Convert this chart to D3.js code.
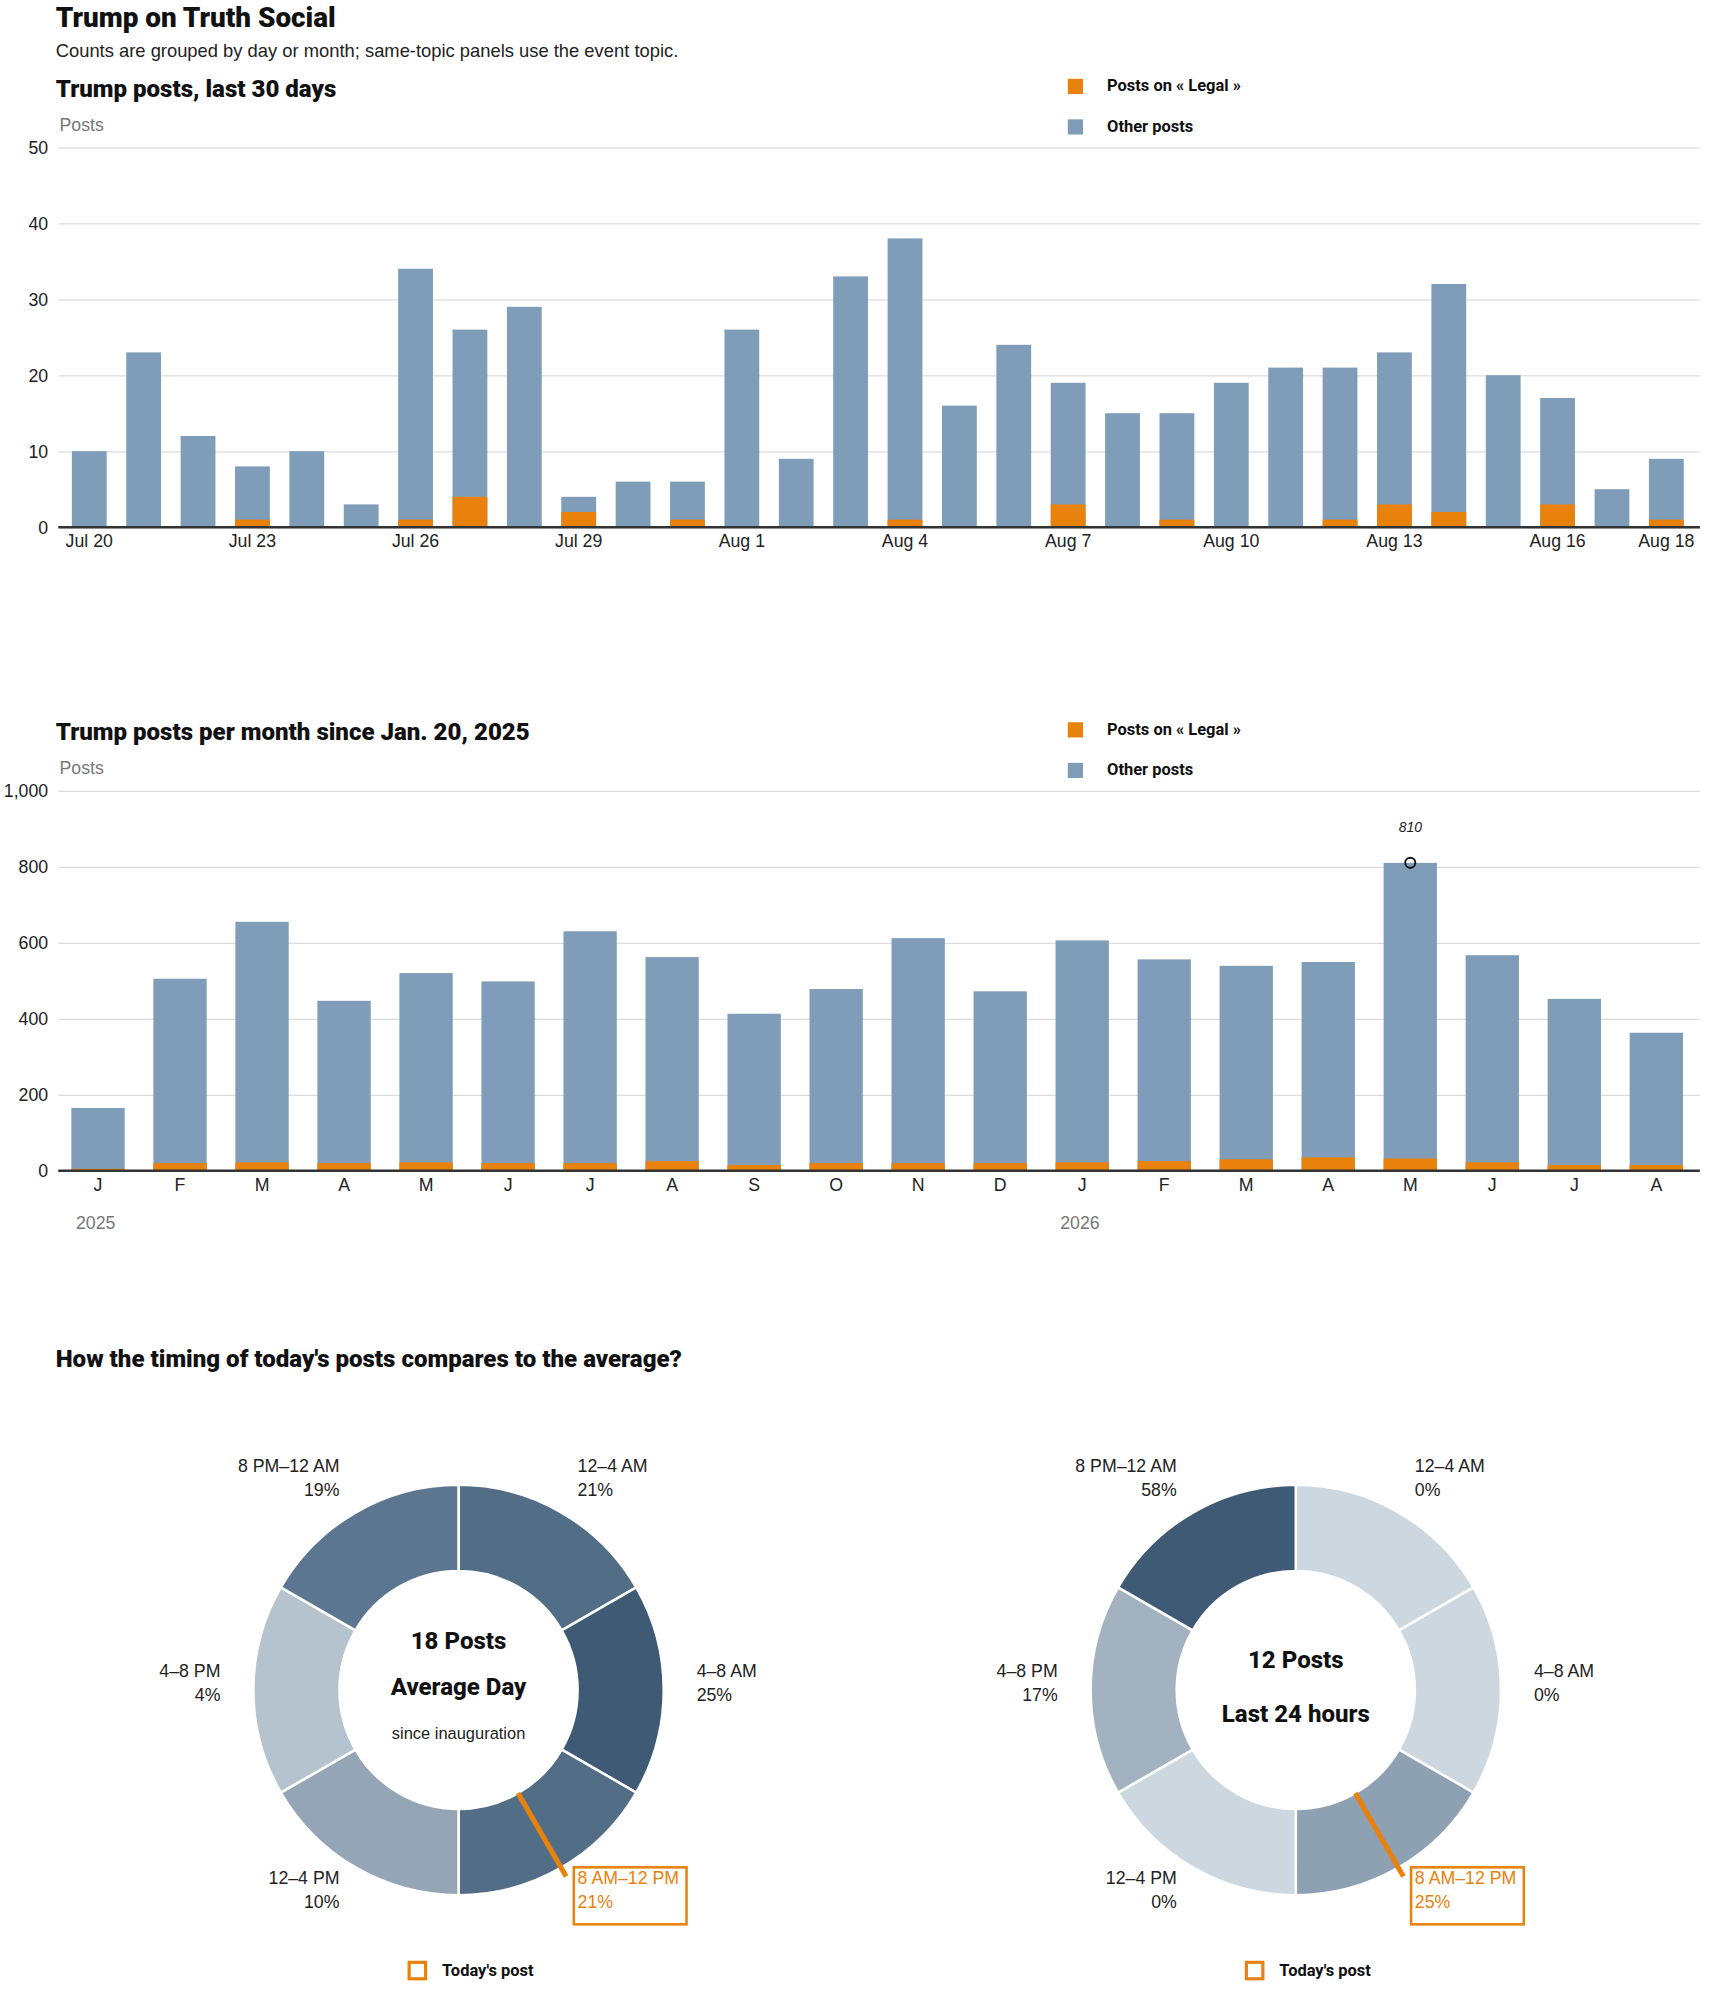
<!DOCTYPE html>
<html><head><meta charset="utf-8">
<script src="https://cdn.jsdelivr.net/npm/d3@7"></script>
<style>
body{margin:0;background:#fff}
text{font-family:"Liberation Sans",Arial,sans-serif;fill:#222}
.hd{font-family:Roboto,sans-serif;font-weight:900;fill:#111}
.lg{font-family:Roboto,sans-serif;font-weight:700;font-size:13px;fill:#111}
</style></head><body>
<svg id="c"></svg>
<script>
// last 30 days
var dayLabels = ["Jul 20","Jul 21","Jul 22","Jul 23","Jul 24","Jul 25","Jul 26","Jul 27","Jul 28","Jul 29","Jul 30","Jul 31","Aug 1","Aug 2","Aug 3","Aug 4","Aug 5","Aug 6","Aug 7","Aug 8","Aug 9","Aug 10","Aug 11","Aug 12","Aug 13","Aug 14","Aug 15","Aug 16","Aug 17","Aug 18"];
var dayTotal = [10,23,12,8,10,3,34,26,29,4,6,6,26,9,33,38,16,24,19,15,15,19,21,21,23,32,20,17,5,9];
var dayLegal = [0,0,0,1,0,0,1,4,0,2,0,1,0,0,0,1,0,0,3,0,1,0,0,1,3,2,0,3,0,1];
var dayTicks = ["Jul 20","Jul 23","Jul 26","Jul 29","Aug 1","Aug 4","Aug 7","Aug 10","Aug 13","Aug 16","Aug 18"];

// per month
var months = ["J","F","M","A","M","J","J","A","S","O","N","D","J","F","M","A","M","J","J","A"];
var monthTotal = [165,505,655,447,520,498,630,562,413,478,612,472,606,556,539,549,810,567,452,363];
var monthLegal = [5,20,22,20,22,20,20,25,15,20,20,20,22,25,30,35,32,22,15,15];

// timing
var slots = ["12–4 AM","4–8 AM","8 AM–12 PM","12–4 PM","4–8 PM","8 PM–12 AM"];
var avgPct = [21,25,21,10,4,19];
var dayPct = [0,0,25,0,17,58];
var avgColors = ["#526d86","#3e5a75","#526d86","#94a6b6","#b5c3cf","#5c7590"];
var dayColors = ["#cdd7e0","#cdd7e0","#8ea1b3","#cdd7e0","#a3b2c1","#3e5a75"];

var ORANGE = "#e8820c", BLUE = "#7f9db9";

var svg = d3.select("#c").attr("width",1710).attr("height",1993).attr("viewBox","0 0 1350 1573");

svg.append("text").attr("class","hd").attr("x",44).attr("y",21).style("font-size","22px").text("Trump on Truth Social");
svg.append("text").attr("x",44).attr("y",45).style("font-size","14.5px").text("Counts are grouped by day or month; same-topic panels use the event topic.");

function legend(y){
  svg.append("rect").attr("x",843).attr("y",y-6).attr("width",12).attr("height",12).attr("fill",ORANGE);
  svg.append("text").attr("class","lg").attr("x",874).attr("y",y+4).text("Posts on « Legal »");
  svg.append("rect").attr("x",843).attr("y",y+26).attr("width",12).attr("height",12).attr("fill",BLUE);
  svg.append("text").attr("class","lg").attr("x",874).attr("y",y+36).text("Other posts");
}

function barChart(o){
  svg.append("text").attr("class","hd").attr("x",44).attr("y",o.titleY).style("font-size","19px").text(o.title);
  svg.append("text").attr("x",47).attr("y",o.titleY+27).style("font-size",  "14px").style("fill","#777").text("Posts");
  legend(o.titleY-8);
  var x = d3.scaleBand().domain(d3.range(o.total.length)).range(o.xr).paddingInner(o.pad).paddingOuter(o.pad/2);
  var y = d3.scaleLinear().domain([0,o.max]).range([o.y0,o.y0-300]);
  var g = svg.append("g");
  g.append("g").attr("transform","translate(46,0)")
    .call(d3.axisLeft(y).tickValues(o.ticks).tickSize(-1296).tickPadding(8))
    .call(a=>{a.select(".domain").remove();a.selectAll("line").attr("stroke","#ddd");
      a.selectAll("text").style("font-size","14px").style("fill","#222");});
  g.selectAll(".b").data(o.total).join("rect").attr("x",(d,i)=>x(i)).attr("width",x.bandwidth())
    .attr("y",d=>y(d)).attr("height",d=>o.y0-y(d)).attr("fill",BLUE);
  g.selectAll(".l").data(o.legal).join("rect").attr("x",(d,i)=>x(i)).attr("width",x.bandwidth())
    .attr("y",d=>y(d)).attr("height",d=>o.y0-y(d)).attr("fill",ORANGE);
  g.append("line").attr("x1",46).attr("x2",1342).attr("y1",o.y0).attr("y2",o.y0).attr("stroke","#333").attr("stroke-width",2);
  o.labels.forEach(function(t,i){
    if(o.show && o.show.indexOf(t)<0) return;
    g.append("text").attr("x",x(i)+x.bandwidth()/2).attr("y",o.y0+16).attr("text-anchor","middle").style("font-size","14px").text(t);
  });
  return {x:x,y:y,g:g};
}

barChart({title:"Trump posts, last 30 days",titleY:76,total:dayTotal,legal:dayLegal,labels:dayLabels,show:dayTicks,
  xr:[49,1337],pad:0.36,max:50,ticks:[0,10,20,30,40,50],y0:416});

var m = barChart({title:"Trump posts per month since Jan. 20, 2025",titleY:584,total:monthTotal,legal:monthLegal,labels:months,
  xr:[45,1340],pad:0.35,max:1000,ticks:[0,200,400,600,800,1000],y0:924});
var mi = monthTotal.indexOf(d3.max(monthTotal));
var mx = m.x(mi)+m.x.bandwidth()/2;
m.g.append("circle").attr("cx",mx).attr("cy",m.y(monthTotal[mi])).attr("r",4).attr("fill","none").attr("stroke","#111").attr("stroke-width",1.5);
m.g.append("text").attr("x",mx).attr("y",657).attr("text-anchor","middle").style("font-size","11px").style("font-style","italic").text(monthTotal[mi]);
m.g.append("text").attr("x",60).attr("y",970).style("font-size","14px").style("fill","#777").text("2025");
m.g.append("text").attr("x",837).attr("y",970).style("font-size","14px").style("fill","#777").text("2026");

svg.append("text").attr("class","hd").attr("x",44).attr("y",1079).style("font-size","19px").text("How the timing of today's posts compares to the average?");

function donut(cx,pct,colors,lines,sub){
  var cy=1334, R=162, r=94;
  var g = svg.append("g").attr("transform","translate("+cx+","+cy+")");
  var pie = d3.pie().value(1).sort(null);
  var arc = d3.arc().innerRadius(r).outerRadius(R);
  g.selectAll("path").data(pie(pct)).join("path").attr("d",arc).attr("fill",(d,i)=>colors[i]).attr("stroke","#fff").attr("stroke-width",2);
  var ang = Math.PI*150/180;
  g.append("line").attr("x1",Math.sin(ang)*r).attr("y1",-Math.cos(ang)*r).attr("x2",Math.sin(ang)*170).attr("y2",-Math.cos(ang)*170)
    .attr("stroke",ORANGE).attr("stroke-width",4);
  var pos=[[94,-172,"start"],[188,-10,"start"],[94,153,"start"],[-94,153,"end"],[-188,-10,"end"],[-94,-172,"end"]];
  pct.forEach(function(p,i){
    var t = g.append("text").attr("text-anchor",pos[i][2]).style("font-size","14px");
    if(i==2) t.style("fill",ORANGE);
    t.append("tspan").attr("x",pos[i][0]).attr("y",pos[i][1]).text(slots[i]);
    t.append("tspan").attr("x",pos[i][0]).attr("y",pos[i][1]+19).text(p+"%");
  });
  g.append("rect").attr("x",91).attr("y",140).attr("width",89).attr("height",45).attr("fill","none").attr("stroke",ORANGE).attr("stroke-width",2);
  lines.forEach(function(l){
    g.append("text").attr("class","hd").attr("text-anchor","middle").attr("y",l[0]).style("font-size","19px").style("font-weight",800).text(l[1]);
  });
  if(sub) g.append("text").attr("text-anchor","middle").attr("y",39).style("font-size","13px").text(sub);
  svg.append("rect").attr("x",cx-39).attr("y",1549).attr("width",13).attr("height",13).attr("fill","none").attr("stroke",ORANGE).attr("stroke-width",2.5);
  svg.append("text").attr("class","lg").attr("x",cx-13).attr("y",1560).text("Today's post");
}
donut(362,avgPct,avgColors,[[-32,"18 Posts"],[4,"Average Day"]],"since inauguration");
donut(1023,dayPct,dayColors,[[-17,"12 Posts"],[25,"Last 24 hours"]],null);
</script></body></html>
